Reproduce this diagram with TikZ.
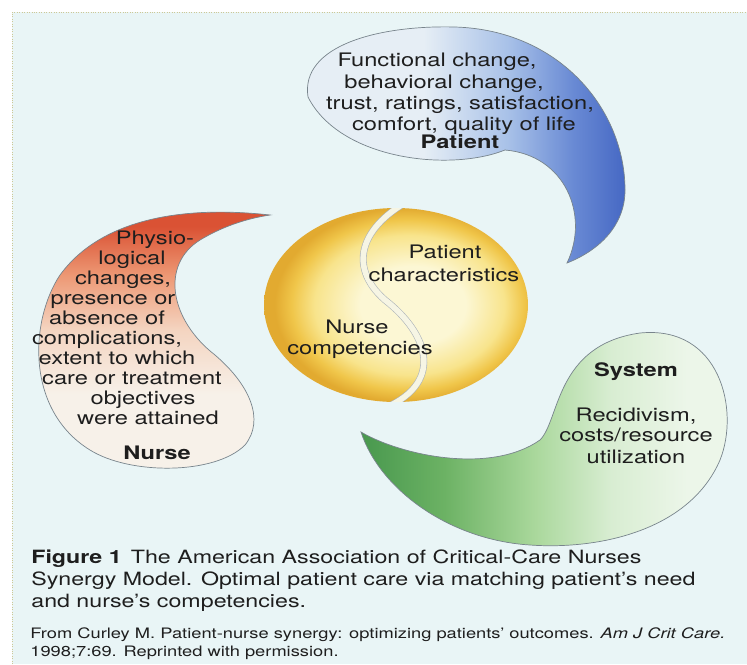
\documentclass[tikz,border=0pt]{standalone}
\usepackage{fontspec}
\setmainfont{TeX Gyre Heros}[FakeStretch=1.27]
\usepackage{tikz}

\definecolor{panelcyan}{RGB}{233,245,246}
\definecolor{framedots}{RGB}{205,200,150}
\definecolor{rimgray}{RGB}{120,132,140}
\definecolor{inkgray}{RGB}{30,30,30}
\definecolor{patientpale}{RGB}{230,238,245}
\definecolor{patientmid}{RGB}{168,193,232}
\definecolor{patientblue}{RGB}{105,138,212}
\definecolor{patientdeep}{RGB}{70,104,196}
\definecolor{nursecream}{RGB}{247,241,233}
\definecolor{nursepeach}{RGB}{244,212,192}
\definecolor{nursesalmon}{RGB}{237,152,116}
\definecolor{nursered}{RGB}{218,82,52}
\definecolor{systemdeep}{RGB}{72,152,78}
\definecolor{systemmid}{RGB}{108,178,100}
\definecolor{systemlight}{RGB}{170,216,156}
\definecolor{systempale}{RGB}{236,246,233}
\definecolor{corepale}{RGB}{252,247,212}
\definecolor{coremid}{RGB}{248,228,140}
\definecolor{coregold}{RGB}{240,198,74}
\definecolor{coreedge}{RGB}{226,170,48}
\definecolor{corestripe}{RGB}{246,245,228}

% fades for the three outcome drops and the core
\pgfdeclarehorizontalshading{patientfade}{100bp}{color(0bp)=(patientpale); color(25bp)=(patientpale);
  color(44bp)=(patientpale); color(57bp)=(patientmid); color(67bp)=(patientblue);
  color(75bp)=(patientdeep); color(100bp)=(patientdeep)}
\pgfdeclareverticalshading{nursefade}{100bp}{color(0bp)=(nursecream); color(25bp)=(nursecream);
  color(40bp)=(nursecream); color(52bp)=(nursepeach); color(62bp)=(nursesalmon);
  color(71bp)=(nursered); color(100bp)=(nursered)}
\pgfdeclarehorizontalshading{systemfade}{100bp}{color(0bp)=(systemdeep); color(25bp)=(systemdeep);
  color(36bp)=(systemmid); color(48bp)=(systemlight); color(58bp)=(systempale!70!systemlight);
  color(68bp)=(systempale); color(100bp)=(systempale)}
\pgfdeclareradialshading{coreglow}{\pgfpoint{4bp}{0bp}}{color(0bp)=(corepale); color(10bp)=(corepale);
  color(18bp)=(coremid); color(22bp)=(coregold); color(25bp)=(coreedge); color(50bp)=(coreedge)}

\begin{document}
\begin{tikzpicture}[
    x=0.02cm, y=-0.02cm,
    drop/.style={draw=rimgray, line width=0.4pt},
    body/.style={font=\fontsize{10.6}{12}\selectfont, text=inkgray, inner sep=0pt, anchor=base},
    head/.style={body, font=\fontsize{10.6}{12}\selectfont\bfseries},
    capline/.style={body, anchor=base west, font=\fontsize{10.4}{12}\selectfont},
    credit/.style={body, anchor=base west, font=\fontsize{8.2}{10}\selectfont},
    sband/.style={draw=rimgray!60, line width=0.35pt, double=corestripe, double distance=3.2pt}
]
    \useasboundingbox (0,0) rectangle (747,664);

    % Panel
    \fill[panelcyan] (12,12) rectangle (747,664);
    \draw[framedots, densely dotted] (12,664) -- (12,12) -- (747,12);

    % Patient drop
    \shadedraw[shading=patientfade, drop] (308,97) .. controls (300,45) and (380,25) .. (455,27)
        .. controls (560,30) and (625,110) .. (625,190)
        .. controls (625,225) and (600,250) .. (567,263)
        .. controls (590,215) and (565,155) .. (505,150)
        .. controls (450,172) and (340,160) .. (308,97) -- cycle;

    % Nurse drop
    \shadedraw[shading=nursefade, drop] (270,215) .. controls (180,205) and (100,220) .. (60,275)
        .. controls (30,320) and (25,410) .. (90,450)
        .. controls (130,475) and (215,475) .. (245,445)
        .. controls (265,420) and (250,385) .. (215,355)
        .. controls (170,320) and (160,265) .. (200,240)
        .. controls (225,225) and (250,218) .. (270,215) -- cycle;

    % System drop
    \shadedraw[shading=systemfade, drop] (361,432) .. controls (400,455) and (490,475) .. (540,440)
        .. controls (560,420) and (555,345) .. (640,333)
        .. controls (720,325) and (740,410) .. (720,460)
        .. controls (690,530) and (600,550) .. (530,545)
        .. controls (450,540) and (380,490) .. (361,432) -- cycle;

    % Synergy core
    \shade[shading=coreglow] (396,305) ellipse [x radius=2.64cm, y radius=1.94cm];
    \begin{scope}
        \clip (396,305) ellipse [x radius=2.64cm, y radius=1.94cm];
        \draw[sband] (420,195) .. controls (362,222) and (345,265) .. (385,300)
            .. controls (430,335) and (445,385) .. (380,410);
    \end{scope}

    % Patient text
    \foreach \tx/\ty/\tline [count=\i] in {437/66/{Functional change,}, 444/88/{behavioral change,},
        460/109/{trust, ratings, satisfaction,}, 464/130/{comfort, quality of life}}
        \node[body] (patient\i) at (\tx,\ty) {\tline};
    \node[head] (patientname) at (460,148) {Patient};

    % Nurse text
    \foreach \tx/\ty/\tline [count=\i] in {155/244/Physio-, 132/264/logical, 123/284/{changes,},
        113/304/presence or, 107/324/absence of, 107/344/{complications,},
        117/364/extent to which, 132/384/care or treatment, 143/404/objectives, 148/424/were attained}
        \node[body] (nurse\i) at (\tx,\ty) {\tline};
    \node[head] (nursename) at (157,459) {Nurse};

    % System text
    \node[head] (systemname) at (636,376) {System};
    \node[body] (system1) at (636,421) {Recidivism,};
    \node[body] (system2) at (636,441) {costs/resource};
    \node[body] (system3) at (636,463) {utilization};

    % Core text
    \node[body] (core1) at (445,258) {Patient};
    \node[body] (core2) at (444,281) {characteristics};
    \node[body] (core3) at (357,333) {Nurse};
    \node[body] (core4) at (360,354) {competencies};

    % Caption
    \node[capline] (cap1) at (31,563) {\textbf{Figure 1}\enspace The American Association of Critical-Care Nurses};
    \node[capline] (cap2) at (31,585) {Synergy Model. Optimal patient care via matching patient’s need};
    \node[capline] (cap3) at (31,607) {and nurse’s competencies.};
    \node[credit] (src1) at (30,638) {From Curley M. Patient-nurse synergy: optimizing patients’ outcomes. \textit{Am J Crit Care.}};
    \node[credit] (src2) at (30,656) {1998;7:69. Reprinted with permission.};
\end{tikzpicture}
\end{document}
